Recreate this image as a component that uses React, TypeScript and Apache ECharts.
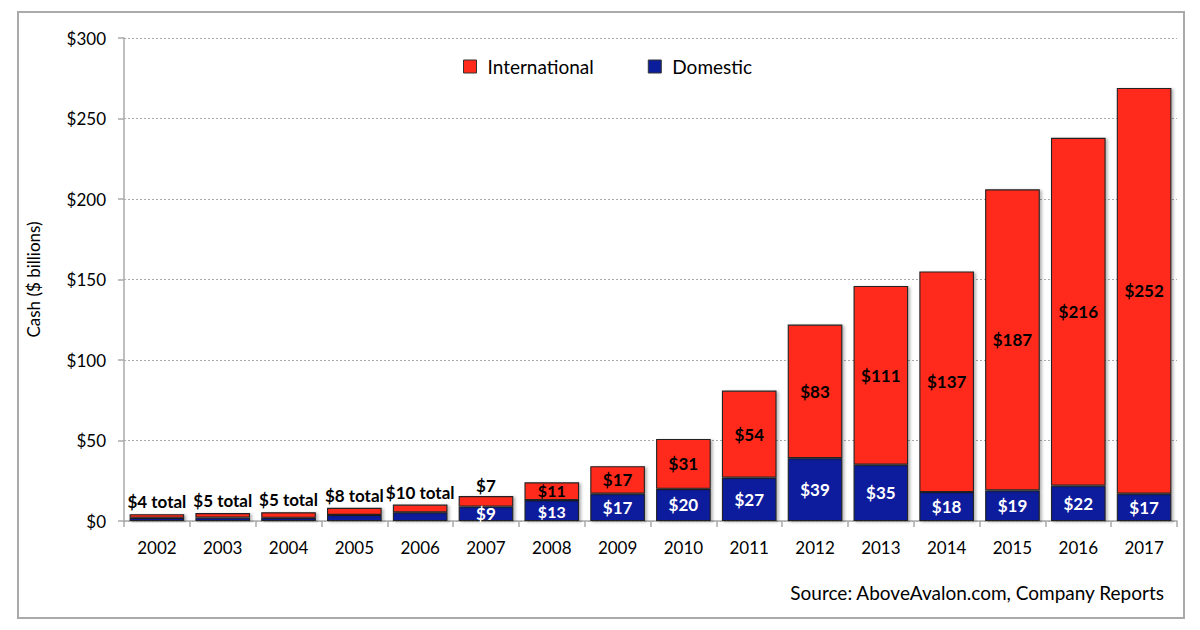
import React, { useEffect, useRef } from "react";
import * as echarts from "echarts";

const years = ["2002","2003","2004","2005","2006","2007","2008","2009","2010","2011","2012","2013","2014","2015","2016","2017"];
const domestic = [2.0, 2.1, 2.0, 3.8, 5.4, 9, 13, 17, 20, 27, 39, 35, 18, 19, 22, 17];
const international = [2.2, 2.8, 3.4, 4.4, 4.8, 6.5, 11, 17, 31, 54, 83, 111, 137, 187, 216, 252];
const totalLabels = ["$4 total", "$5 total", "$5 total", "$8 total", "$10 total"];
const yTicks = [0, 50, 100, 150, 200, 250, 300];

const FONT = "Lato, 'Open Sans', sans-serif";
const RED = "#FF2A1C";
const BLUE = "#0A1E9C";

export default function App() {
  const ref = useRef<HTMLDivElement>(null);
  useEffect(() => {
    document.body.style.margin = "0";
    const chart = echarts.init(ref.current!, null, { renderer: "svg" });
    const itemStyleBase = {
      borderColor: "#222",
      borderWidth: 1.1,
      shadowColor: "rgba(0,0,0,0.3)",
      shadowBlur: 3,
      shadowOffsetX: 2,
      shadowOffsetY: 1,
    };
    const intlData = international.map((v, i) => {
      if (i < 5) {
        return {
          value: v,
          label: {
            show: true,
            position: "top",
            distance: 4,
            color: "#000",
            formatter: totalLabels[i],
          },
        };
      }
      if (i === 5) {
        return {
          value: v,
          label: { show: true, position: "top", distance: 2, color: "#000", formatter: "$7" },
        };
      }
      if (i === 6) {
        return { value: v, label: { fontSize: 16, offset: [0, -1] } };
      }
      return { value: v };
    });
    const domData = domestic.map((v, i) => ({
      value: v,
      label: i === 6 ? { show: true, fontSize: 16, offset: [0, 1] } : { show: i >= 5 },
    }));
    chart.setOption({
      animation: false,
      textStyle: { fontFamily: FONT },
      grid: { left: 124, right: 23, top: 38, bottom: 109, containLabel: false },
      legend: {
        data: ["International", "Domestic"],
        icon: "rect",
        left: 458,
        top: 52,
        itemWidth: 13,
        itemHeight: 13,
        itemGap: 54,
        textStyle: { fontSize: 19, color: "#000", fontFamily: FONT, padding: [0, 0, 0, 6] },
        itemStyle: { borderColor: "#333", borderWidth: 1 },
      },
      xAxis: {
        type: "category",
        data: years,
        axisLine: { lineStyle: { color: "#aaa", width: 1.5 } },
        axisTick: { show: true, length: 6, lineStyle: { color: "#aaa", width: 1.5 } },
        axisLabel: { fontSize: 17, color: "#000", margin: 18, fontFamily: FONT },
      },
      yAxis: {
        type: "value",
        min: yTicks[0],
        max: yTicks[yTicks.length - 1],
        interval: 50,
        name: "Cash ($ billions)",
        nameLocation: "middle",
        nameGap: 82,
        nameTextStyle: { fontSize: 17, color: "#000", fontFamily: FONT },
        axisLine: { show: true, lineStyle: { color: "#aaa", width: 1.5 } },
        axisTick: { show: true, length: 6, lineStyle: { color: "#aaa", width: 1.5 } },
        axisLabel: { fontSize: 17, color: "#000", margin: 18, fontFamily: FONT, formatter: (v: number) => "$" + v },
        splitLine: { show: true, lineStyle: { color: "#aaa", type: [2, 2], width: 1 } },
      },
      series: [
        {
          name: "Domestic",
          type: "bar",
          stack: "cash",
          barCategoryGap: "17%",
          data: domData,
          itemStyle: { ...itemStyleBase, color: BLUE },
          label: {
            show: true,
            position: "inside",
            color: "#fff",
            fontWeight: "bold",
            fontSize: 17,
            fontFamily: FONT,
            formatter: (p: any) => "$" + Math.round(p.value),
          },
        },
        {
          name: "International",
          type: "bar",
          stack: "cash",
          barCategoryGap: "17%",
          data: intlData,
          itemStyle: { ...itemStyleBase, color: RED },
          label: {
            show: true,
            position: "inside",
            color: "#000",
            fontWeight: "bold",
            fontSize: 17,
            fontFamily: FONT,
            formatter: (p: any) => "$" + Math.round(p.value),
          },
        },
      ],
      graphic: [
        {
          type: "rect",
          shape: { x: 18, y: 12, width: 1166, height: 606 },
          style: { fill: "none", stroke: "#aaa", lineWidth: 2 },
          z: -10,
          silent: true,
        },
        {
          type: "text",
          x: 1164,
          y: 592,
          style: {
            text: "Source: AboveAvalon.com, Company Reports",
            fontSize: 19,
            fontFamily: FONT,
            fill: "#000",
            textAlign: "right",
            textVerticalAlign: "middle",
          },
        },
      ],
    });
    return () => chart.dispose();
  }, []);
  return <div ref={ref} style={{ width: 1200, height: 630 }} />;
}
